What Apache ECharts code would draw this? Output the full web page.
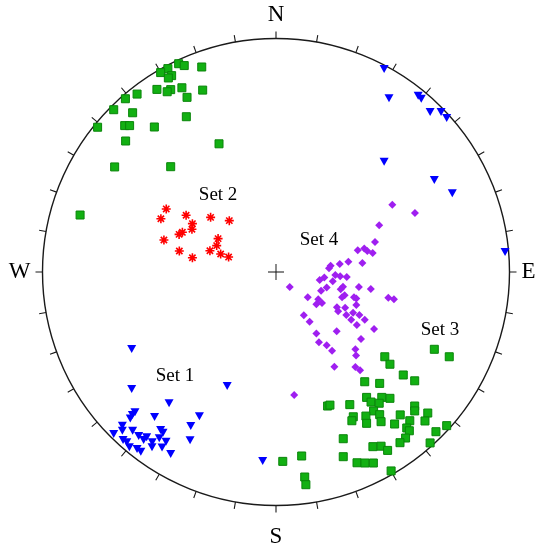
<!DOCTYPE html>
<html><head><meta charset="utf-8">
<script src="https://cdn.jsdelivr.net/npm/echarts@6/dist/echarts.min.js"></script>
<style>html,body{margin:0;padding:0;background:#fff}#c{width:543px;height:550px}</style>
</head><body><div id="c"></div><script>
// Stereonet coordinates: x = east, y = north, primitive circle radius = 1
const compassAngles = [0, 90, 180, 270];
const compassLabels = ['N', 'E', 'S', 'W'];

const greenNW = [[-0.417,0.892],[-0.393,0.884],[-0.318,0.878],[-0.463,0.871],[-0.494,0.854],[-0.447,0.841],[-0.461,0.831],
  [-0.510,0.782],[-0.451,0.781],[-0.466,0.772],[-0.403,0.789],[-0.314,0.779],[-0.381,0.748],[-0.595,0.762],[-0.645,0.742],
  [-0.695,0.695],[-0.614,0.682],[-0.384,0.665],[-0.764,0.620],[-0.648,0.627],[-0.627,0.627],[-0.521,0.621],[-0.644,0.561],
  [-0.244,0.549],[-0.691,0.450],[-0.451,0.451],[-0.839,0.244]];

const greenSet3 = [[0.678,-0.331],[0.742,-0.363],[0.466,-0.363],[0.488,-0.395],[0.545,-0.441],[0.594,-0.466],[0.380,-0.470],
  [0.444,-0.477],[0.388,-0.537],[0.453,-0.537],[0.488,-0.541],[0.407,-0.557],[0.442,-0.562],[0.316,-0.568],[0.221,-0.574],
  [0.231,-0.570],[0.594,-0.574],[0.594,-0.595],[0.418,-0.595],[0.444,-0.611],[0.385,-0.617],[0.650,-0.604],[0.331,-0.620],
  [0.532,-0.612],[0.325,-0.637],[0.388,-0.648],[0.450,-0.641],[0.573,-0.637],[0.638,-0.638],[0.508,-0.651],[0.560,-0.668],
  [0.571,-0.680],[0.685,-0.684],[0.731,-0.658],[0.288,-0.714],[0.555,-0.711],[0.531,-0.731],[0.660,-0.732],[0.415,-0.748],
  [0.450,-0.746],[0.478,-0.764],[0.110,-0.788],[0.288,-0.791],[0.029,-0.811],[0.347,-0.817],[0.381,-0.818],[0.417,-0.818],
  [0.493,-0.852],[0.123,-0.878],[0.128,-0.911]];

const blueNE = [[0.463,0.869],[0.484,0.744],[0.609,0.755],[0.622,0.742],[0.660,0.685],[0.707,0.685],[0.731,0.660],
  [0.463,0.472],[0.678,0.394],[0.755,0.337],[0.981,0.086]];

const blueSet1 = [[-0.618,-0.330],[-0.618,-0.501],[-0.209,-0.488],[-0.458,-0.562],[-0.604,-0.601],[-0.615,-0.612],
  [-0.624,-0.627],[-0.520,-0.621],[-0.328,-0.618],[-0.658,-0.658],[-0.365,-0.660],[-0.695,-0.694],[-0.658,-0.680],
  [-0.614,-0.680],[-0.588,-0.702],[-0.494,-0.677],[-0.484,-0.688],[-0.554,-0.708],[-0.567,-0.719],[-0.500,-0.712],
  [-0.471,-0.727],[-0.368,-0.721],[-0.655,-0.719],[-0.639,-0.729],[-0.530,-0.729],[-0.531,-0.751],[-0.488,-0.752],
  [-0.628,-0.751],[-0.595,-0.758],[-0.579,-0.770],[-0.451,-0.779],[-0.057,-0.809]];

const redSet2 = [[-0.470,0.270],[-0.493,0.228],[-0.385,0.243],[-0.280,0.234],[-0.200,0.220],[-0.358,0.207],[-0.360,0.183],
  [-0.401,0.170],[-0.415,0.161],[-0.480,0.137],[-0.248,0.143],[-0.254,0.113],[-0.283,0.091],[-0.414,0.090],[-0.237,0.077],
  [-0.203,0.064],[-0.358,0.061]];

const purpleSet4 = [[0.498,0.288],[0.595,0.253],[0.442,0.200],[0.424,0.128],[0.350,0.093],[0.378,0.101],[0.391,0.090],
  [0.414,0.081],[0.310,0.044],[0.273,0.034],[0.370,0.039],[0.234,0.027],[0.227,0.016],[0.254,-0.013],[0.275,-0.018],
  [0.303,-0.021],[0.207,-0.024],[0.187,-0.034],[0.243,-0.040],[0.059,-0.064],[0.217,-0.066],[0.287,-0.063],[0.277,-0.074],
  [0.355,-0.064],[0.406,-0.073],[0.193,-0.080],[0.136,-0.108],[0.294,-0.100],[0.283,-0.108],[0.334,-0.108],[0.344,-0.114],
  [0.181,-0.117],[0.173,-0.138],[0.197,-0.133],[0.481,-0.110],[0.505,-0.117],[0.344,-0.141],[0.261,-0.151],[0.296,-0.153],
  [0.266,-0.168],[0.330,-0.174],[0.357,-0.184],[0.119,-0.185],[0.301,-0.184],[0.322,-0.204],[0.380,-0.204],[0.144,-0.213],
  [0.346,-0.227],[0.420,-0.244],[0.260,-0.254],[0.173,-0.263],[0.364,-0.287],[0.184,-0.301],[0.217,-0.314],[0.240,-0.337],
  [0.340,-0.331],[0.343,-0.358],[0.250,-0.406],[0.340,-0.407],[0.360,-0.421],[0.078,-0.527]];

const setNames = ['Set 1', 'Set 2', 'Set 3', 'Set 4'];
const setLabelPos = [[-0.433,-0.445],[-0.248,0.330],[0.702,-0.248],[0.184,0.137]];
const centerPoint = [[0, 0]];

const R = 233.5, CX = 276, CY = 272;
const chart = echarts.init(document.getElementById('c'));
const serif = '"Liberation Serif","Times New Roman",serif';
const asterisk = 'path://M5,0L5,10M0,5L10,5M1.5,1.5L8.5,8.5M8.5,1.5L1.5,8.5';
const cross = 'path://M47,0h6v100h-6zM0,47h100v6h-100z';

chart.setOption({
  animation: false,
  backgroundColor: '#fff',
  polar: { center: [CX, CY], radius: R },
  angleAxis: {
    type: 'value', min: 0, max: 360, interval: 10, startAngle: 90, clockwise: true,
    axisLine: { show: true, lineStyle: { color: '#1a1a1a', width: 1.4 } },
    axisTick: { show: true, length: 7, lineStyle: { color: '#1a1a1a', width: 1.1 } },
    splitLine: { show: false },
    axisLabel: {
      show: true, margin: 12, fontFamily: serif, fontSize: 23, color: '#000',
      formatter: function (v) {
        const i = compassAngles.indexOf(v);
        if (i < 0 || v === 360) return '';
        return v === 180 ? '{s|' + compassLabels[i] + '}' : compassLabels[i];
      },
      rich: { s: { fontFamily: serif, fontSize: 23, color: '#000', padding: [8, 0, 0, 0] } }
    }
  },
  radiusAxis: { min: 0, max: 1, show: false, axisLine: {show:false}, axisTick:{show:false}, axisLabel:{show:false}, splitLine:{show:false} },
  grid: { left: CX - R, top: CY - R, width: 2 * R, height: 2 * R },
  xAxis: { type: 'value', min: -1, max: 1, show: false, splitLine: { show: false } },
  yAxis: { type: 'value', min: -1, max: 1, show: false, splitLine: { show: false } },
  series: [
    { type: 'scatter', data: greenNW, symbol: 'rect', symbolSize: 8,
      itemStyle: { color: '#12b012', borderColor: '#0a850a', borderWidth: 1, opacity: 1 } },
    { type: 'scatter', data: greenSet3, symbol: 'rect', symbolSize: 8,
      itemStyle: { color: '#12b012', borderColor: '#0a850a', borderWidth: 1, opacity: 1 } },
    { type: 'scatter', data: blueNE, symbol: 'triangle', symbolRotate: 180, symbolSize: [9, 8],
      itemStyle: { color: '#0000ff', opacity: 1 } },
    { type: 'scatter', data: blueSet1, symbol: 'triangle', symbolRotate: 180, symbolSize: [9, 8],
      itemStyle: { color: '#0000ff', opacity: 1 } },
    { type: 'scatter', data: redSet2, symbol: asterisk, symbolSize: 9,
      itemStyle: { color: 'rgba(0,0,0,0)', borderColor: '#ff0000', borderWidth: 1.6, opacity: 1 } },
    { type: 'scatter', data: purpleSet4, symbol: 'diamond', symbolSize: 8,
      itemStyle: { color: '#9f1ff0', opacity: 1 } },
    { type: 'scatter', data: centerPoint, symbol: cross, symbolSize: 16, silent: true,
      itemStyle: { color: '#111', opacity: 1 } },
    { type: 'scatter', silent: true, symbolSize: 1, itemStyle: { color: 'rgba(0,0,0,0)', opacity: 1 },
      data: setLabelPos.map((p, i) => ({ value: p, name: setNames[i] })),
      label: { show: true, position: 'inside', formatter: '{b}', fontFamily: serif, fontSize: 19, color: '#000' } }
  ]
});
</script></body></html>
